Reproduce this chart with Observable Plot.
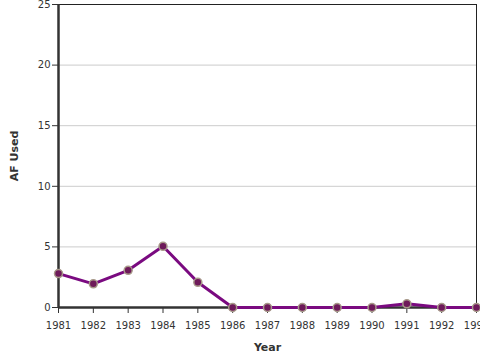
<!DOCTYPE html>
<html><head><meta charset="utf-8">
<script src="https://cdn.jsdelivr.net/npm/d3@7"></script>
<script src="https://cdn.jsdelivr.net/npm/@observablehq/plot@0.6"></script>
<style>body{margin:0;background:#fff}</style>
</head><body><div id="chart"></div>
<script>
const years = [1981,1982,1983,1984,1985,1986,1987,1988,1989,1990,1991,1992,1993];
const afUsed = [2.8,1.95,3.07,5.05,2.08,0,0,0,0,0,0.3,0,0];
const yTicks = [0,5,10,15,20,25];
const data = years.map((y,i)=>({year:y, af:afUsed[i]}));
const chart = Plot.plot({
  width:480, height:360,
  marginLeft:58, marginRight:4, marginTop:4, marginBottom:53,
  style:{fontFamily:"DejaVu Sans", fontSize:"10px", color:"#333", overflow:"visible"},
  x:{domain:[1981,1993], ticks:years, tickFormat:d=>String(d), label:null},
  y:{domain:[0,25], ticks:yTicks, label:null},
  marks:[
    Plot.gridY(yTicks,{stroke:"#ccc", strokeOpacity:1}),
    Plot.frame({stroke:"#222", strokeWidth:1}),
    Plot.axisX({ticks:years, tickFormat:d=>String(d), tickSize:6, tickPadding:8, label:null}),
    Plot.axisY({ticks:yTicks, tickSize:6, tickPadding:2, label:null}),
    Plot.ruleY([0],{stroke:"#333", strokeWidth:2.5}),
    Plot.ruleX([1981],{stroke:"#333", strokeWidth:2.5}),
    Plot.line(data,{x:"year", y:"af", stroke:"#7a0a80", strokeWidth:3}),
    Plot.dot(data,{x:"year", y:"af", r:4, fill:"#6e1a5a", stroke:"#a89a8a", strokeWidth:1.5}),
    Plot.text(["Year"],{frameAnchor:"bottom", dy:43, fontWeight:"bold", fontSize:11, textAnchor:"middle", text:d=>d}),
    Plot.text(["AF Used"],{frameAnchor:"left", rotate:-90, dx:-44, textAnchor:"middle", fontWeight:"bold", fontSize:11, text:d=>d})
  ]
});
document.getElementById("chart").append(chart);
</script></body></html>
